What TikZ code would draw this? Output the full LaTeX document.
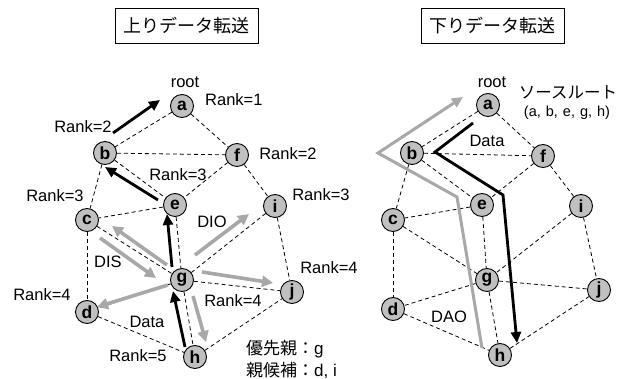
\documentclass[tikz,border=0pt]{standalone}
\usepackage{fontspec}
\setmainfont{Liberation Sans}
\newfontfamily\jpfont{Noto Sans CJK JP}
\usetikzlibrary{arrows.meta}
\definecolor{nodegray}{RGB}{192,192,192}
\definecolor{arrgray}{RGB}{168,168,168}
\tikzset{
  nd/.style={circle,draw=black,line width=0.9pt,fill=nodegray,minimum size=23pt,inner sep=0pt,font=\fontsize{17.5}{17.5}\selectfont\bfseries},
  lnk/.style={dashed,dash pattern=on 4pt off 3pt,line width=0.8pt},
  lbl/.style={font=\fontsize{16.5}{18}\selectfont,inner sep=0pt},
  jlbl/.style={font=\fontsize{17}{19}\selectfont\jpfont,inner sep=0pt},
  blk/.style={line width=2.8pt,black,-{Triangle[length=11pt,width=10pt]}},
  gry/.style={line width=3.6pt,arrgray,-{Triangle[length=11pt,width=11pt]}},
  ttl/.style={draw,line width=0.8pt,minimum width=143pt,minimum height=35pt,inner sep=0pt,font=\fontsize{18}{20}\selectfont\jpfont}
}
\begin{document}
\begin{tikzpicture}[x=1pt,y=-1pt]
\useasboundingbox (0,0) rectangle (622,379);
% titles
\node[ttl] (t1) at (186.5,25.5) {上りデータ転送};
\node[ttl] (t2) at (492.5,25.5) {下りデータ転送};
% ---------------- left graph
\node[nd] (a) at (182,106) {a};
\node[nd] (b) at (105,153) {b};
\node[nd] (f) at (237,155) {f};
\node[nd] (e) at (175,205) {e};
\node[nd] (c) at (87,220) {c};
\node[nd] (i) at (275,206) {i};
\node[nd] (g) at (182,280) {g};
\node[nd] (j) at (292,292) {j};
\node[nd] (d) at (87,312) {d};
\node[nd] (h) at (195,357) {h};
\foreach \u/\v in {a/b,a/f,b/f,b/e,b/c,f/e,f/i,e/c,e/g,c/g,c/d,i/g,i/j,g/j,g/d,g/h,d/h,h/j}
  \draw[lnk] (\u) -- (\v);
% left arrows
\coordinate (p1s) at (113,133); \coordinate (p1e) at (160,100);
\coordinate (p2s) at (158,200); \coordinate (p2e) at (105,167);
\coordinate (p3s) at (172,267); \coordinate (p3e) at (167,214);
\coordinate (p4s) at (185,347); \coordinate (p4e) at (173,291);
\draw[blk] (p1s) -- (p1e);
\draw[blk] (p2s) -- (p2e);
\draw[blk] (p3s) -- (p3e);
\draw[blk] (p4s) -- (p4e);
\coordinate (q1s) at (167,265); \coordinate (q1e) at (112,226);
\coordinate (q2s) at (100,238); \coordinate (q2e) at (156,278);
\coordinate (q3s) at (195,255); \coordinate (q3e) at (249,214);
\coordinate (q4s) at (202,272); \coordinate (q4e) at (273,283);
\coordinate (q5s) at (168,285); \coordinate (q5e) at (97,307);
\coordinate (q6s) at (193,296); \coordinate (q6e) at (206,342);
\foreach \k in {1,...,6} \draw[gry] (q\k s) -- (q\k e);
% left labels
\node[lbl] (lroot) at (185,82) {root};
\node[lbl,anchor=west] (r1) at (205,100) {Rank=1};
\node[lbl] (r2b) at (83,127) {Rank=2};
\node[lbl] (r2f) at (288,154) {Rank=2};
\node[lbl] (r3e) at (178,175) {Rank=3};
\node[lbl] (r3c) at (55,196) {Rank=3};
\node[lbl] (r3i) at (321,195) {Rank=3};
\node[lbl] (r4j) at (329,268) {Rank=4};
\node[lbl] (r4d) at (42,295) {Rank=4};
\node[lbl] (r4g) at (233,301) {Rank=4};
\node[lbl] (r5) at (138,356) {Rank=5};
\node[lbl] (dio) at (212,222) {DIO};
\node[lbl] (dis) at (108,262) {DIS};
\node[lbl] (ldata) at (147,322) {Data};
\node[jlbl,anchor=west] (pp) at (246,349) {優先親：\fontspec{Liberation Sans}g};
\node[jlbl,anchor=west] (pc) at (246,370) {親候補：\fontspec{Liberation Sans}d, i};
% ---------------- right graph
\begin{scope}[xshift=306pt]
\node[nd] (a2) at (182,105) {a};
\node[nd] (b2) at (106,153) {b};
\node[nd] (f2) at (237,156) {f};
\node[nd] (e2) at (176,205) {e};
\node[nd] (c2) at (87,220) {c};
\node[nd] (i2) at (275,206) {i};
\node[nd] (g2) at (181,280) {g};
\node[nd] (j2) at (293,290) {j};
\node[nd] (d2) at (87,309) {d};
\node[nd] (h2) at (194,355) {h};
\end{scope}
\foreach \u/\v in {a/b,a/f,b/f,b/e,b/c,f/e,f/i,e/c,e/g,c/g,c/d,i/g,i/j,g/j,g/d,g/h,d/h,h/j}
  \draw[lnk] (\u2) -- (\v2);
\coordinate (g1) at (482,348); \coordinate (g2c) at (457,197);
\coordinate (g3) at (378,153); \coordinate (g4) at (463,97);
\draw[line width=3pt,arrgray,-{Triangle[length=11pt,width=10pt]},line join=miter] (g1) -- (g2c) -- (g3) -- (g4);
\coordinate (k1) at (473,123); \coordinate (k2) at (435,152);
\coordinate (k3) at (503,195); \coordinate (k4) at (517,343);
\draw[line width=2.8pt,black,-{Triangle[length=11pt,width=10pt]},line join=miter] (k1) -- (k2) -- (k3) -- (k4);
\node[lbl] (rroot) at (492,82) {root};
\node[jlbl,font=\fontsize{16.5}{18}\selectfont\jpfont] (src) at (568,92) {ソースルート};
\node[lbl,font=\fontsize{14.5}{16}\selectfont] (srcl) at (567,113) {(a,\hskip 5pt b,\hskip 5pt e,\hskip 5pt g,\hskip 5pt h)};
\node[lbl] (rdata) at (487,141) {Data};
\node[lbl] (dao) at (449,317) {DAO};
\end{tikzpicture}
\end{document}
